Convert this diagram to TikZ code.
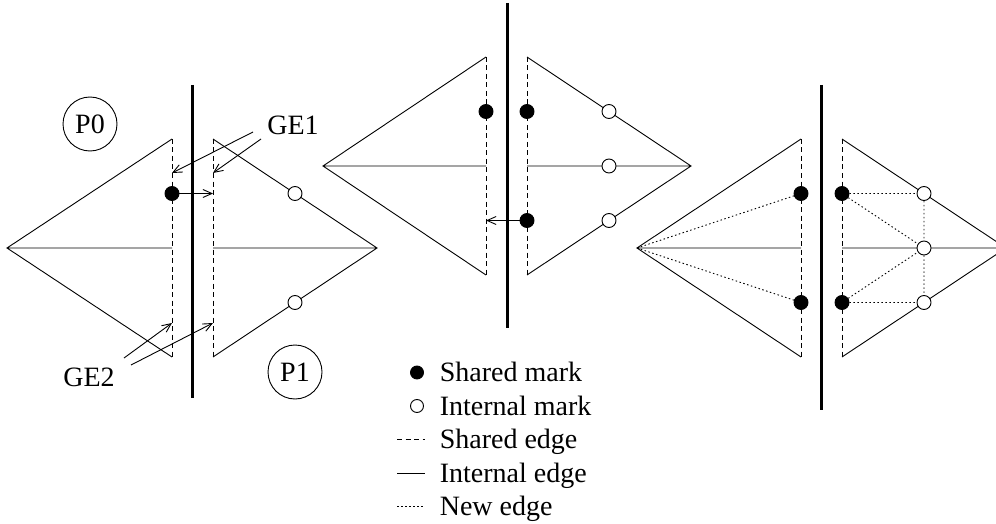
\documentclass[tikz,border=0pt]{standalone}
\usepackage{fontspec}
\setmainfont{Liberation Serif}
\usetikzlibrary{arrows.meta,positioning}

\begin{document}
\begin{tikzpicture}[x=1pt,y=-1pt,line width=0.9pt,
  font=\fontsize{28}{28}\selectfont,
  shmark/.style={circle,draw,fill=black,inner sep=0pt,minimum size=14pt},
  inmark/.style={circle,draw,fill=white,inner sep=0pt,minimum size=14pt},
  shedge/.style={dash pattern=on 5pt off 3.5pt},
  newedge/.style={dash pattern=on 1.5pt off 2.5pt},
  sepline/.style={line width=3pt},
  part/.style={circle,draw,inner sep=0pt,minimum size=54pt},
  ptr/.style={-{Straight Barb[length=9pt,width=8pt]}}]

  \useasboundingbox (0,0) rectangle (996,524);

  % first pair of triangles
  \coordinate (a1-apex) at (7,248);
  \coordinate (a1-top) at (172,139);
  \coordinate (a1-mid) at (172,248);
  \coordinate (a1-bot) at (172,357);
  \coordinate (b1-top) at (213,139);
  \coordinate (b1-mid) at (213,248);
  \coordinate (b1-bot) at (213,357);
  \coordinate (b1-apex) at (377,248);
  \draw (a1-top) -- (a1-apex) -- (a1-bot) (a1-apex) -- (a1-mid);
  \draw (b1-top) -- (b1-apex) -- (b1-bot) (b1-apex) -- (b1-mid);
  \draw[shedge] (a1-top) -- (a1-bot) (b1-top) -- (b1-bot);
  \draw[sepline] (192.5,85) -- (192.5,398);

  \node[shmark] (a1-s1) at (172,193.5) {};
  \node[inmark] (b1-i1) at (295,193.5) {};
  \node[inmark] (b1-i3) at (295,302.5) {};
  \coordinate (b1-s1) at (213,193.5);
  \draw[ptr] (a1-s1) -- (b1-s1);

  \node[part] (p0) at (90,124) {P0};
  \node[part] (p1) at (295,372) {P1};

  % ghost edge labels
  \node (ge1) at (293,125) {GE1};
  \node (ge2) at (89,377) {GE2};
  \coordinate (ge1-a) at (253,132);
  \coordinate (ge1-b) at (261,139);
  \coordinate (ge2-a) at (124,358);
  \coordinate (ge2-b) at (131,365);
  \draw[ptr] (ge1-a) -- (172,173);
  \draw[ptr] (ge1-b) -- (213,173);
  \draw[ptr] (ge2-a) -- (172,323);
  \draw[ptr] (ge2-b) -- (213,323);

  % second pair of triangles
  \coordinate (a2-apex) at (323,166);
  \coordinate (a2-top) at (486,57);
  \coordinate (a2-mid) at (486,166);
  \coordinate (a2-bot) at (486,275);
  \coordinate (b2-top) at (527,57);
  \coordinate (b2-mid) at (527,166);
  \coordinate (b2-bot) at (527,275);
  \coordinate (b2-apex) at (691,166);
  \draw (a2-top) -- (a2-apex) -- (a2-bot) (a2-apex) -- (a2-mid);
  \draw (b2-top) -- (b2-apex) -- (b2-bot) (b2-apex) -- (b2-mid);
  \draw[shedge] (a2-top) -- (a2-bot) (b2-top) -- (b2-bot);
  \draw[sepline] (507,3) -- (507,328);

  \node[shmark] (a2-s1) at (486,111.5) {};
  \node[shmark] (b2-s1) at (527,111.5) {};
  \node[shmark] (b2-s3) at (527,220.5) {};
  \node[inmark] (b2-i1) at (609,111.5) {};
  \node[inmark] (b2-i2) at (609,166) {};
  \node[inmark] (b2-i3) at (609,220.5) {};
  \coordinate (a2-s3) at (486,220.5);
  \draw[ptr] (b2-s3) -- (a2-s3);

  % third pair of triangles
  \coordinate (a3-apex) at (637,248);
  \coordinate (a3-top) at (801,139);
  \coordinate (a3-mid) at (801,248);
  \coordinate (a3-bot) at (801,357);
  \coordinate (b3-top) at (842,139);
  \coordinate (b3-mid) at (842,248);
  \coordinate (b3-bot) at (842,357);
  \coordinate (b3-apex) at (1006,248);
  \draw (a3-top) -- (a3-apex) -- (a3-bot) (a3-apex) -- (a3-mid);
  \draw (b3-top) -- (b3-apex) -- (b3-bot) (b3-apex) -- (b3-mid);
  \draw[shedge] (a3-top) -- (a3-bot) (b3-top) -- (b3-bot);
  \draw[sepline] (821.5,85) -- (821.5,410);

  \node[shmark] (a3-s1) at (801,193.5) {};
  \node[shmark] (a3-s3) at (801,302.5) {};
  \node[shmark] (b3-s1) at (842,193.5) {};
  \node[shmark] (b3-s3) at (842,302.5) {};
  \node[inmark] (b3-i1) at (924,193.5) {};
  \node[inmark] (b3-i2) at (924,248) {};
  \node[inmark] (b3-i3) at (924,302.5) {};

  % new edges
  \draw[newedge] (a3-apex) -- (a3-s1) (a3-apex) -- (a3-s3)
    (b3-s1) -- (b3-i1) (b3-s1) -- (b3-i2) (b3-s3) -- (b3-i2)
    (b3-s3) -- (b3-i3) (b3-i1) -- (b3-i2) (b3-i2) -- (b3-i3);

  % legend
  \node[shmark,minimum size=13pt] (key-sm) at (417,372.5) {};
  \node[inmark,minimum size=13pt] (key-im) at (417,406) {};
  \draw[shedge] (397,439.5) -- (425,439.5);
  \draw (397,473) -- (425,473);
  \draw[newedge] (397,506.5) -- (425,506.5);
  \node[anchor=base west] (key-sm-t) at (436,381.5) {Shared mark};
  \node[anchor=base west] (key-im-t) at (436,415) {Internal mark};
  \node[anchor=base west] (key-se-t) at (436,448.5) {Shared edge};
  \node[anchor=base west] (key-ie-t) at (436,482) {Internal edge};
  \node[anchor=base west] (key-ne-t) at (436,515.5) {New edge};
\end{tikzpicture}
\end{document}
